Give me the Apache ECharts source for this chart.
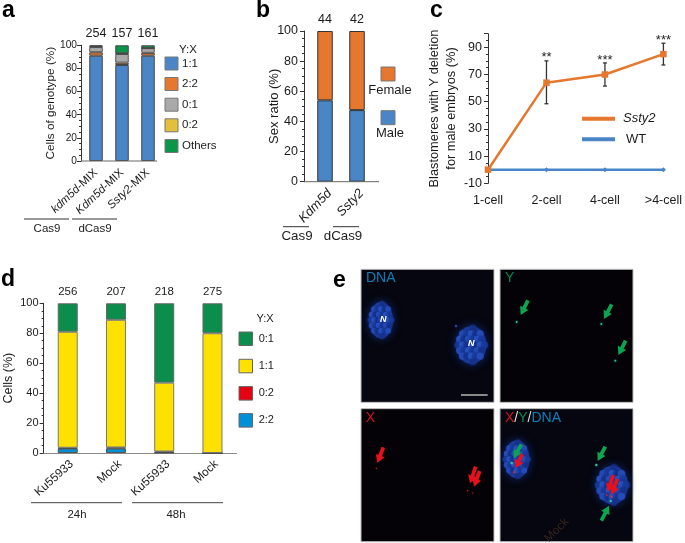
<!DOCTYPE html>
<html><head><meta charset="utf-8">
<style>html,body{margin:0;padding:0;background:#fff}#c{width:685px;height:543px}</style>
<script src="https://cdn.jsdelivr.net/npm/echarts@6/dist/echarts.min.js"></script>
</head><body><div id="c"></div>
<script>
// ---- data ----
const aCats = ['kdm5d-MIX','Kdm5d-MIX','Ssty2-MIX'];
const aCounts = [254,157,161];
const a11 = [91,83,91];
const a22 = [3,2,2.5];
const a01 = [4.5,7.5,4];
const a02 = [0.5,0.5,0];
const aOthers = [1,7,2.5];
const bCats = ['Kdm5d','Ssty2'];
const bCounts = [44,42];
const bMale = [54,47.5];
const bFemale = [46,52.5];
const cCats = ['1-cell','2-cell','4-cell','>4-cell'];
const cSsty2 = [0,64,70,85];
const cWT = [0,0,0,0];
const cLow = [null,48.5,61.5,77];
const cHigh = [null,80,78.5,93];
const cStars = ['','**','***','***'];
const dCats = ['Ku55933','Mock','Ku55933','Mock'];
const dCounts = [256,207,218,275];
const d22 = [3,3,0.3,0];
const d02 = [0.5,0.7,0.7,0];
const d11 = [77.5,85.3,46,80];
const d01 = [19,11,53,20];

const FONT = '"Liberation Sans",Arial,sans-serif';
const INK = '#1c1c1c';
const C = {blue:'#4a86c6',orange:'#e5772e',gray:'#a9a9a9',gold:'#e3bf3c',green:'#0a9648',
  dGreen:'#0b8e4b',dYellow:'#ffe100',dRed:'#e60012',dBlue:'#0090d8',
  tBlue:'#0f7fb8',tGreen:'#0a8a50',tRed:'#d8141e'};

function yAxis(i,o){return Object.assign({gridIndex:i,type:'value',min:0,max:100,interval:20,
  splitLine:{show:false},nameMoveOverlap:false,
  axisLine:{show:true,lineStyle:{color:'#333',width:1}},
  axisTick:{show:true,length:4,lineStyle:{color:'#333'}},
  minorTick:{show:true,splitNumber:4,length:2,lineStyle:{color:'#333'}},
  nameLocation:'middle',nameRotate:90,nameTextStyle:{fontFamily:FONT,color:INK,fontSize:12},
  axisLabel:{fontFamily:FONT,color:INK,fontSize:12,margin:6}},o);}
function bar(name,x,y,data,color,width,border,extra){return Object.assign({name,type:'bar',xAxisIndex:x,yAxisIndex:y,stack:'s'+x,data,barWidth:width,
  itemStyle:{color,borderColor:border,borderWidth:1}},extra||{});}
function topLabel(counts,size){return {label:{show:true,position:'top',distance:5,fontFamily:FONT,fontSize:size,color:INK,
  formatter:p=>String(counts[p.dataIndex])}};}
function setRich(size){return {i:{fontStyle:'italic',fontFamily:FONT,color:INK,fontSize:size},r:{fontFamily:FONT,color:INK,fontSize:size}};}

const grids = [
 {left:83,top:45.3,width:78,height:115.7},
 {left:309,top:31,width:64,height:150.7},
 {left:488,top:33.7,width:178,height:149.6},
 {left:43.6,top:303.3,width:193,height:149.7}
];
const xAxes = [
 {gridIndex:0,type:'category',data:aCats,axisLine:{show:false},axisTick:{show:false},
  axisLabel:{interval:0,rotate:43,margin:10,fontSize:11.5,formatter:s=>s.endsWith('-MIX')?`{i|${s.slice(0,-4)}}{r|-MIX}`:s,rich:setRich(11.5)}},
 {gridIndex:1,type:'category',data:bCats,axisLine:{show:false},axisTick:{show:false},
  axisLabel:{interval:0,rotate:46,margin:5,verticalAlign:'top',fontSize:13,formatter:s=>`{i|${s}}`,rich:setRich(13)}},
 {gridIndex:2,type:'category',data:cCats,boundaryGap:false,axisLine:{show:true,lineStyle:{color:'#333'}},axisTick:{show:false},
  axisLabel:{interval:0,margin:11,fontFamily:FONT,color:INK,fontSize:12.5}},
 {gridIndex:3,type:'category',data:dCats,axisLine:{show:true,lineStyle:{color:'#888',width:1}},axisTick:{show:false},
  axisLabel:{interval:0,rotate:42,margin:5,verticalAlign:'top',fontFamily:FONT,color:INK,fontSize:11.8}}
];
const yAxes = [
 yAxis(0,{offset:2,name:'Cells of genotype (%)',nameGap:24,axisLabel:{fontFamily:FONT,color:INK,fontSize:10.2,margin:4},nameTextStyle:{fontFamily:FONT,color:INK,fontSize:11.8}}),
 yAxis(1,{offset:5,name:'Sex ratio (%)',nameGap:23,axisLabel:{fontFamily:FONT,color:INK,fontSize:12.5,margin:6},nameTextStyle:{fontFamily:FONT,color:INK,fontSize:13}}),
 yAxis(2,{min:-10,max:100,interval:20,name:'Blastomeres with Y deletion\nfor male embryos (%)',nameGap:28,
   axisLabel:{fontFamily:FONT,color:INK,fontSize:12.5,margin:6,formatter:v=>v===100?'':String(v)},
   nameTextStyle:{fontFamily:FONT,color:INK,fontSize:12.8,lineHeight:17}}),
 yAxis(3,{name:'Cells (%)',nameGap:29,axisLabel:{fontFamily:FONT,color:INK,fontSize:11,margin:5},nameTextStyle:{fontFamily:FONT,color:INK,fontSize:12.5}})
];
const series = [
 bar('1:1',0,0,a11,C.blue,13.5,'#444'),
 bar('2:2',0,0,a22,C.orange,13.5,'#444'),
 bar('0:1',0,0,a01,C.gray,13.5,'#555'),
 bar('0:2',0,0,a02,C.gold,13.5,'#444'),
 bar('Others',0,0,aOthers,C.green,13.5,'#444',topLabel(aCounts,12.5)),
 bar('Male',1,1,bMale,C.blue,15.5,'#333'),
 bar('Female',1,1,bFemale,C.orange,15.5,'#333',topLabel(bCounts,12.5)),
 {name:'WT',type:'line',xAxisIndex:2,yAxisIndex:2,data:cWT,symbol:'diamond',symbolSize:5,lineStyle:{color:C.blue,width:2.5},itemStyle:{color:C.blue},z:2},
 {name:'Ssty2 error',type:'custom',xAxisIndex:2,yAxisIndex:2,z:3,
  data:cCats.map((c,i)=>[i,cLow[i],cHigh[i]]).filter(d=>d[1]!==null),
  encode:{x:0,y:[1,2]},
  renderItem(params,api){
    const i=api.value(0),lo=api.coord([i,api.value(1)]),hi=api.coord([i,api.value(2)]);
    const st={stroke:'#333',lineWidth:1.3,fill:null};
    const seg=(x1,y1,x2,y2)=>({type:'line',shape:{x1,y1,x2,y2},style:st});
    return {type:'group',children:[
      seg(lo[0],lo[1],hi[0],hi[1]),
      seg(lo[0]-2,lo[1],lo[0]+2,lo[1]),
      seg(hi[0]-2,hi[1],hi[0]+2,hi[1]),
      {type:'text',style:{text:cStars[i],x:hi[0],y:hi[1]-3,align:'center',verticalAlign:'middle',font:'13px '+FONT,fill:'#222'}}
    ]};
  }},
 {name:'Ssty2',type:'line',xAxisIndex:2,yAxisIndex:2,data:cSsty2,symbol:'rect',symbolSize:6.5,lineStyle:{color:C.orange,width:2.5},itemStyle:{color:C.orange},z:4},
 bar('2:2',3,3,d22,C.dBlue,20,'#555'),
 bar('0:2',3,3,d02,C.dRed,20,'#444'),
 bar('1:1',3,3,d11,C.dYellow,20,'#777'),
 bar('0:1',3,3,d01,C.dGreen,20,'#666',topLabel(dCounts,11.5))
];

// ---- graphics: legends, group lines, panel letters, micrographs ----
const G=[];
const txt=(text,x,y,o)=>G.push({type:'text',x,y,z:20,style:Object.assign({text,font:'12px '+FONT,fill:INK,align:'center',verticalAlign:'middle'},o||{})});
const rect=(x,y,w,h,fill,stroke,o)=>G.push(Object.assign({type:'rect',shape:{x,y,width:w,height:h},z:10,style:{fill,stroke:stroke||null,lineWidth:1}},o||{}));
const ln=(x1,y1,x2,y2,stroke,lw)=>G.push({type:'line',z:10,shape:{x1,y1,x2,y2},style:{stroke,lineWidth:lw||1}});
[['a',2,11],['b',256,11],['c',430,11],['d',1,280],['e',333,281]].forEach(l=>txt(l[0],l[1],l[2],{font:'bold 23px '+FONT,fill:'#000',align:'left'}));
// a
ln(81,161,157,161,'#666');
txt('Y:X',188,50,{font:'11.5px '+FONT});
[['1:1',C.blue,63.5],['2:2',C.orange,84],['0:1',C.gray,104.7],['0:2',C.gold,125.3],['Others',C.green,146]].forEach(r=>{
  rect(165,r[2]-6.5,13,13,r[1],'#777');txt(r[0],182,r[2],{font:'11.5px '+FONT,align:'left'});});
ln(24,219,69,219,'#333');ln(72,219,117,219,'#333');
txt('Cas9',47,228.5,{font:'11.5px '+FONT});txt('dCas9',95,228.5,{font:'11.5px '+FONT});
// b
ln(304,181.7,379,181.7,'#666');
rect(381,67,14,14,C.orange,'#777');txt('Female',390,90,{font:'13px '+FONT});
rect(381,110.7,14,14,C.blue,'#777');txt('Male',390,133,{font:'13px '+FONT});
ln(283,226.7,309,226.7,'#333');ln(333,226.7,359,226.7,'#333');
txt('Cas9',297,236,{font:'13.3px '+FONT});txt('dCas9',343,236,{font:'13.3px '+FONT});
// c
ln(582,118.7,615,118.7,C.orange,4);ln(582,139.3,615,139.3,C.blue,4);
txt('Ssty2',623,118.7,{font:'italic 13px '+FONT,align:'left'});txt('WT',626,139.3,{font:'13px '+FONT,align:'left'});
// d
txt('Y:X',265,319,{font:'11px '+FONT});
[['0:1',C.dGreen,338.7],['1:1',C.dYellow,366],['0:2',C.dRed,393.3],['2:2',C.dBlue,420.3]].forEach(r=>{
  rect(239,r[2]-6.7,13.5,13.5,r[1],'#666');txt(r[0],258.7,r[2],{font:'11px '+FONT,align:'left'});});
ln(31,502.7,122,502.7,'#444');ln(132,502.7,223,502.7,'#444');
txt('24h',77,515,{font:'11.4px '+FONT});txt('48h',176,515,{font:'11.4px '+FONT});
// e  (zoom-crop coordinates converted to page pixels)
const ex=v=>330+v/3,ey=v=>265+v/3;
const panels=[[93,13],[510,13],[93,431],[510,431]];
panels.forEach((p,i)=>{G.push({type:'rect',z:10,shape:{x:ex(p[0]),y:ey(p[1]),width:133,height:133},
  style:{fill:i%3===0?'#05060f':'#040206',stroke:'#bbb',lineWidth:1}});});
function nucleus(zx,zy,zrx,zry){
  const x=ex(zx),y=ey(zy),rx=zrx/3,ry=zry/3;
  G.push({type:'ellipse',z:11,shape:{cx:x,cy:y,rx,ry},style:{fill:'#1c3c9c',shadowBlur:10,shadowColor:'rgba(30,70,190,.6)'}});
  const cols=['#2b56c8','#16308a','#2f5ed0','#1a3a9e'];
  for(let j=-3;j<=3;j++)for(let k=-3;k<=3;k++){
    const u=k/3.4+(j%2?0.1:0),v=j/3.4;
    if(u*u+v*v>0.8)continue;
    G.push({type:'circle',z:12,shape:{cx:x+u*rx,cy:y+v*ry,r:Math.min(rx,ry)/4.2},
      style:{fill:cols[Math.abs(j*3+k*5)%4],opacity:.7,shadowBlur:2,shadowColor:'#16328a'}});
  }
}
function arrow(tx,ty,bx,by,color){
  const x1=ex(tx),y1=ey(ty),x2=ex(bx),y2=ey(by),dx=x2-x1,dy=y2-y1,L=Math.hypot(dx,dy),ux=dx/L,uy=dy/L,nx=-uy,ny=ux;
  const h=8,hw=4.6,sw=1.9;
  const P=(a,b)=>[x1+ux*a+nx*b,y1+uy*a+ny*b];
  G.push({type:'polygon',z:16,shape:{points:[P(0,0),P(h,hw),P(h,sw),P(L,sw),P(L,-sw),P(h,-sw),P(h,-hw)]},style:{fill:color}});
}
const dot=(zx,zy,r,fill)=>G.push({type:'circle',z:15,shape:{cx:ex(zx),cy:ey(zy),r},style:{fill,shadowBlur:2,shadowColor:fill}});
const AG='#0ba552',AR='#e8101c';
nucleus(153,165,36,55);nucleus(424,240,45,57);nucleus(560,583,38,57);nucleus(847,660,47,58);
dot(378,183,1,'#2a55c4');
txt('N',ex(160),ey(165),{font:'italic bold 9px '+FONT,fill:'#fff'});txt('N',ex(424),ey(235),{font:'italic bold 9px '+FONT,fill:'#fff'});
ln(ex(393),ey(390),ex(473),ey(390),'#b5b5b5',1.5);
[[560,171],[814,177],[856,287]].forEach(d=>dot(d[0],d[1],0.9,'#25c89a'));
[[572,150,594,106],[822,162,845,118],[865,270,887,227]].forEach(a=>arrow(a[0],a[1],a[2],a[3],AG));
[[139,610],[413,677],[428,684]].forEach(d=>dot(d[0],d[1],0.6,'#e8202a'));
[[142,594,160,547],[420,655,437,605],[432,665,449,618]].forEach(a=>arrow(a[0],a[1],a[2],a[3],AR));
[[545,594],[799,600],[842,708]].forEach(d=>dot(d[0],d[1],1.1,'#30d0b0'));
[[552,622],[830,690],[845,695]].forEach(d=>dot(d[0],d[1],0.8,'#f03020'));
[[551,580,574,538],[803,588,826,545],[837,722,814,767]].forEach(a=>arrow(a[0],a[1],a[2],a[3],AG));
[[557,610,576,567],[833,680,850,630],[845,690,862,642]].forEach(a=>arrow(a[0],a[1],a[2],a[3],AR));
const lab=(t,zx,zy,c)=>txt(t,ex(zx),ey(zy),{font:'14px '+FONT,fill:c,align:'left'});
lab('DNA',108,40,C.tBlue);lab('Y',525,40,C.tGreen);lab('X',107,458,C.tRed);
G.push({type:'text',z:20,x:ex(525),y:ey(458),style:{text:'{r|X}{w|/}{g|Y}{w|/}{b|DNA}',font:'14px '+FONT,verticalAlign:'middle',
  rich:{r:{fill:C.tRed,font:'14px '+FONT},w:{fill:'#ddd',font:'14px '+FONT},g:{fill:C.tGreen,font:'14px '+FONT},b:{fill:C.tBlue,font:'14px '+FONT}}}});
G.push({type:'text',z:20,x:ex(680),y:ey(795),rotation:Math.PI/4,style:{text:'Mock',font:'12px '+FONT,fill:'#35231c',align:'center',verticalAlign:'middle'}});

const chart=echarts.init(document.getElementById('c'),null,{renderer:'canvas'});
chart.setOption({animation:false,backgroundColor:'#fff',grid:grids,xAxis:xAxes,yAxis:yAxes,series,graphic:{elements:G}});
</script></body></html>
